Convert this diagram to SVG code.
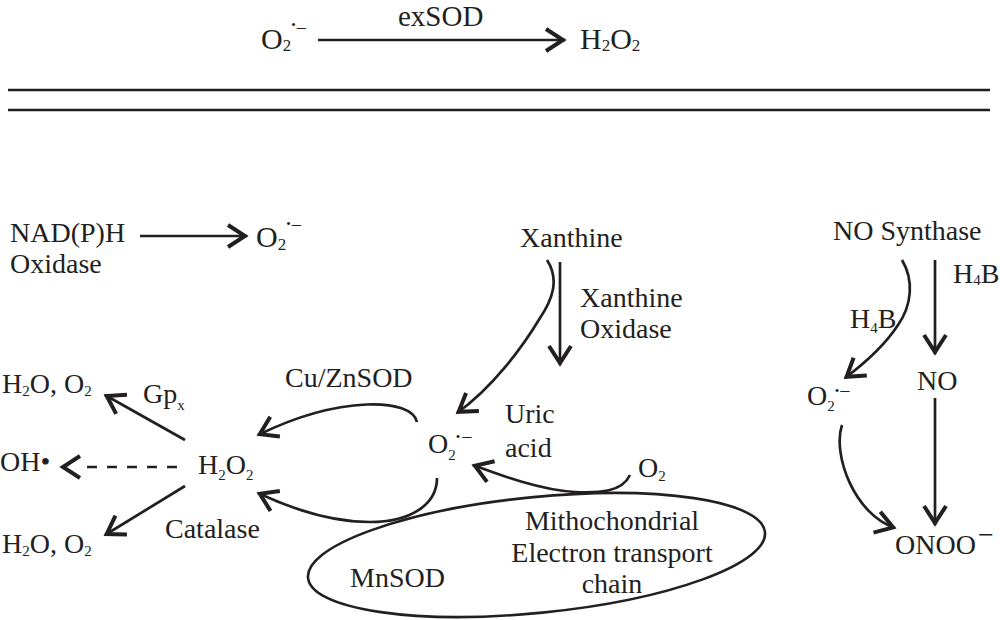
<svg xmlns="http://www.w3.org/2000/svg" width="1000" height="620" viewBox="0 0 1000 620">
<defs>
<style>
.t{font-family:"Liberation Serif","Times New Roman",serif;font-size:28px;fill:#231f20}
.big{font-size:30px}
.ex{font-size:29px}
.s{font-size:15px}
.sb{font-size:17px}
.dot{font-size:13px}
.neg{font-size:20px}
.c{fill:none;stroke:#231f20;stroke-width:2.7;marker-end:url(#ah)}
.dash{fill:none;stroke:#231f20;stroke-width:2.7;stroke-dasharray:10 10}
.head{fill:none;stroke:#231f20;stroke-width:4}
.rule{stroke:#231f20;stroke-width:2.5}
.mito{fill:none;stroke:#231f20;stroke-width:2.6}
</style>
<marker id="ah" markerUnits="userSpaceOnUse" markerWidth="44" markerHeight="44" viewBox="-22 -22 44 44" refX="0" refY="0" orient="auto">
<path d="M-19,-11 L-2,0 L-19,11" fill="none" stroke="#231f20" stroke-width="4"/>
</marker>
</defs>
<rect width="1000" height="620" fill="#ffffff"/>

<g id="rules">
<line class="rule" x1="8" y1="90" x2="990" y2="90"/>
<line class="rule" x1="8" y1="110" x2="990" y2="110"/>
</g>

<g id="connectors">
<path class="c" d="M318,40 H565"/>
<path class="c" d="M140,236 H247"/>
<path class="c" d="M185,440 L105,395"/>
<path class="dash" d="M177,467 H87"/>
<path class="head" d="M80,456 L63,467 L80,478"/>
<path class="c" d="M185,486 L105,535"/>
<path class="c" d="M417,422 C412,398 340,395 258,435"/>
<path class="c" d="M437,478 C437,505 410,522 370,522 C330,522 290,508 258,493"/>
<path class="c" d="M560,262 V365"/>
<path class="c" d="M547,260 C560,280 552,300 540,318 C522,348 492,388 457,413"/>
<path class="c" d="M630,475 C622,492 600,493 575,492 C540,490 500,475 473,465"/>
<path class="c" d="M935,260 V354"/>
<path class="c" d="M902,260 C914,280 912,305 898,325 C885,345 865,363 845,378"/>
<path class="c" d="M935,398 V525"/>
<path class="c" d="M842,425 C832,455 855,515 895,528"/>
</g>

<g id="edge-labels">
<text class="t ex" x="398" y="26">exSOD</text>
<text class="t" x="143" y="403">Gp<tspan class="s" y="410">x</tspan></text>
<text class="t" x="165" y="538">Catalase</text>
<text class="t" x="285" y="387">Cu/ZnSOD</text>
<text class="t" x="580" y="307">Xanthine</text>
<text class="t" x="580" y="338">Oxidase</text>
<text class="t" x="505" y="423">Uric</text>
<text class="t" x="505" y="457">acid</text>
<text class="t" x="953" y="283">H<tspan class="s" y="285">4</tspan><tspan y="283">B</tspan></text>
<text class="t" x="850" y="328">H<tspan class="s" y="333">4</tspan><tspan y="328">B</tspan></text>
</g>

<g id="top-superoxide">
<text class="t big" x="261" y="49">O<tspan class="sb" y="50.5">2</tspan><tspan class="dot" y="29">•</tspan><tspan class="neg" y="35">−</tspan></text>
</g>
<g id="top-h2o2">
<text class="t big" x="580" y="49">H<tspan class="sb" y="50.5">2</tspan><tspan y="49">O</tspan><tspan class="sb" y="50.5">2</tspan></text>
</g>

<g id="nadph-oxidase">
<text class="t" x="10" y="242">NAD(P)H</text>
<text class="t" x="10" y="273">Oxidase</text>
</g>
<g id="nadph-superoxide">
<text class="t big" x="256" y="247">O<tspan class="sb" y="250">2</tspan><tspan class="dot" y="228">•</tspan><tspan class="neg" y="231.5">−</tspan></text>
</g>

<g id="h2o-o2-top">
<text class="t" x="2" y="393">H<tspan class="s" y="396">2</tspan><tspan y="393">O, O</tspan><tspan class="s" y="396">2</tspan></text>
</g>
<g id="hydroxyl">
<text class="t" x="0" y="471">OH•</text>
</g>
<g id="h2o-o2-bottom">
<text class="t" x="2" y="553">H<tspan class="s" y="556">2</tspan><tspan y="553">O, O</tspan><tspan class="s" y="556">2</tspan></text>
</g>
<g id="h2o2">
<text class="t" x="198" y="474">H<tspan class="s" y="480">2</tspan><tspan y="474">O</tspan><tspan class="s" y="480">2</tspan></text>
</g>
<g id="superoxide-center">
<text class="t" x="428" y="453">O<tspan class="s" y="460">2</tspan><tspan class="dot" y="441">•</tspan><tspan class="neg" dx="1" y="444">−</tspan></text>
</g>

<g id="xanthine">
<text class="t" x="520" y="247">Xanthine</text>
</g>
<g id="oxygen">
<text class="t" x="638" y="477">O<tspan class="s" y="481">2</tspan></text>
</g>

<g id="mitochondria">
<ellipse class="mito" cx="536.5" cy="555" rx="229.6" ry="57.9" transform="rotate(-5.7 536.5 555)"/>
<text class="t" x="350" y="587">MnSOD</text>
<text class="t" x="612" y="530" text-anchor="middle">Mithochondrial</text>
<text class="t" x="612" y="562" text-anchor="middle">Electron transport</text>
<text class="t" x="612" y="593" text-anchor="middle">chain</text>
</g>

<g id="no-synthase">
<text class="t" x="833" y="240">NO Synthase</text>
</g>
<g id="no">
<text class="t" x="917" y="390">NO</text>
</g>
<g id="superoxide-right">
<text class="t" x="807" y="405">O<tspan class="s" y="411">2</tspan><tspan class="dot" y="394.5">•</tspan><tspan class="neg" y="397.5">−</tspan></text>
</g>
<g id="peroxynitrite">
<text class="t" x="895" y="554">ONOO<tspan dx="2" y="544">−</tspan></text>
</g>
</svg>
